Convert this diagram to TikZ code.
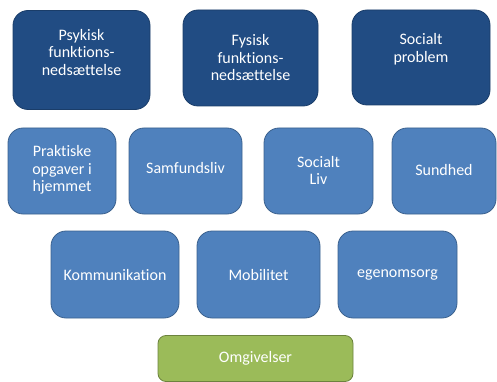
\documentclass[tikz,border=0pt]{standalone}
\usepackage{fontspec}
\setmainfont[Ligatures=NoCommon]{Carlito}
\definecolor{darkblue}{RGB}{33,76,131}
\definecolor{midblue}{RGB}{79,129,189}
\definecolor{leafgreen}{RGB}{155,187,89}
\tikzset{
  box/.style={draw, line width=0.8pt, rounded corners=15pt, inner sep=0pt},
  darkbox/.style={box, fill=darkblue, draw=darkblue!80!black},
  midbox/.style={box, fill=midblue, draw=midblue!75!black},
  greenbox/.style={box, fill=leafgreen, draw=leafgreen!70!black, rounded corners=8pt},
  boxtext/.style={text=white, align=center, font=\fontsize{16}{17.5}\selectfont, inner sep=0pt}
}
\begin{document}
\begin{tikzpicture}[x=1pt, y=-1pt]
\useasboundingbox (0,0) rectangle (497,382);
% top row
\draw
(81.5,60) node [darkbox, minimum width=137pt, minimum height=99pt] (psykisk) {}
(250.5,58) node [darkbox, minimum width=135pt, minimum height=96pt] (fysisk) {}
(421,57.5) node [darkbox, minimum width=138pt, minimum height=95pt] (problem) {};
\draw
(81.5,52.5) node [boxtext] (psykisk-t) {Psykisk\\funktions-\\nedsættelse}
(250.5,58) node [boxtext] (fysisk-t) {Fysisk\\funktions-\\nedsættelse}
(421,49) node [boxtext] (problem-t) {Socialt\\problem};
% middle rows
\draw
(62,171) node [midbox, minimum width=108pt, minimum height=86pt] (praktisk) {}
(185.5,171) node [midbox, minimum width=113pt, minimum height=86pt] (samfund) {}
(318.5,171) node [midbox, minimum width=109pt, minimum height=86pt] (socialliv) {}
(444,171) node [midbox, minimum width=104pt, minimum height=86pt] (sundhed) {}
(115,274.5) node [midbox, minimum width=128pt, minimum height=87pt] (komm) {}
(258.5,274.5) node [midbox, minimum width=123pt, minimum height=87pt] (mobil) {}
(397.5,274.5) node [midbox, minimum width=119pt, minimum height=87pt] (egen) {};
\draw
(62,170) node [boxtext] (praktisk-t) {Praktiske\\opgaver i\\hjemmet}
(185.5,168) node [boxtext] (samfund-t) {Samfundsliv}
(318.5,170.5) node [boxtext] (socialliv-t) {Socialt\\Liv}
(444,170) node [boxtext] (sundhed-t) {Sundhed}
(115,275) node [boxtext] (komm-t) {Kommunikation}
(258.5,275) node [boxtext] (mobil-t) {Mobilitet}
(397.5,275) node [boxtext] (egen-t) {egenomsorg};
% bottom
\draw
(255.5,358.5) node [greenbox, minimum width=195pt, minimum height=46pt] (omgiv) {}
(255.5,358.5) node [boxtext] (omgiv-t) {Omgivelser};
\end{tikzpicture}
\end{document}
